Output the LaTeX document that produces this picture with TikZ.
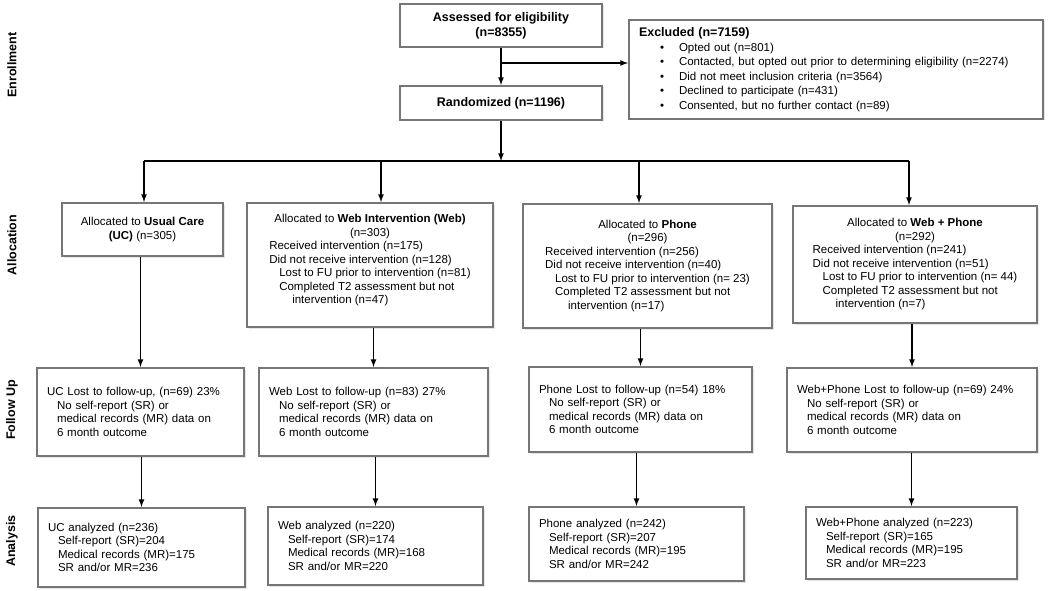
\documentclass[tikz,border=0pt]{standalone}
\usepackage{fontspec}
\setmainfont{Liberation Sans}
\usetikzlibrary{shadows}

\definecolor{boxgray}{RGB}{118,118,118}
\newcommand{\midline}[1]{\multicolumn{1}{@{}c@{}}{#1}}

\tikzset{
	box/.style = {draw = boxgray, line width = 2pt, fill = white, inner sep = 0pt,
		drop shadow = {shadow xshift = 1.5pt, shadow yshift = -1.5pt, opacity = 0.2},
		font = \fontsize{11.5}{13.5}\selectfont},
	stage/.style = {rotate = 90, font = \fontsize{12.5}{15}\selectfont\bfseries},
}

\begin{document}
\begin{tikzpicture}[x = 1pt, y = -1pt, > = latex]

	\useasboundingbox (0, 0) rectangle (1050, 591);

	\node [stage] (enroll) at (12, 65) {Enrollment};
	\node [stage] (alloc) at (12, 245) {Allocation};
	\node [stage] (follow) at (12, 410) {Follow Up};
	\node [stage] (analysis) at (12, 541) {Analysis};

	% enrollment
	\node [box, minimum width = 202pt, minimum height = 43pt, align = center, font = \fontsize{12.5}{15}\selectfont\bfseries] (assess) at (501, 25.5) {Assessed for eligibility\\(n=8355)};
	\node [box, minimum width = 202pt, minimum height = 34pt, font = \fontsize{12.5}{15}\selectfont\bfseries] (random) at (501, 103) {Randomized (n=1196)};
	\node [box, minimum width = 414pt, minimum height = 99pt, text width = 394pt, align = left, font = \fontsize{11.5}{14.5}\selectfont] (excl) at (836, 69.5) {
		{\fontsize{12.5}{14.5}\selectfont\bfseries Excluded (n=7159)}\\
		\hspace*{21pt}\textbullet\hspace{15pt}Opted out (n=801)\\
		\hspace*{21pt}\textbullet\hspace{15pt}Contacted, but opted out prior to determining eligibility (n=2274)\\
		\hspace*{21pt}\textbullet\hspace{15pt}Did not meet inclusion criteria (n=3564)\\
		\hspace*{21pt}\textbullet\hspace{15pt}Declined to participate (n=431)\\
		\hspace*{21pt}\textbullet\hspace{15pt}Consented, but no further contact (n=89)};

	% allocation
	\node [box, minimum width = 161pt, minimum height = 53pt, align = center] (allocUC) at (142.5, 229.5) {Allocated to \textbf{Usual Care}\\\textbf{(UC)} (n=305)};
	\node [box, minimum width = 246pt, minimum height = 124pt] (allocWeb) at (370, 265) {\begin{tabular}{@{}l@{}}
		\midline{Allocated to \textbf{Web Intervention (Web)}}\\
		\midline{(n=303)}\\
		Received intervention (n=175)\\
		Did not receive intervention (n=128)\\
		\hspace{10pt}Lost to FU prior to intervention (n=81)\\
		\hspace{10pt}Completed T2 assessment but not\\
		\hspace{23pt}intervention (n=47)\rule[-13pt]{0pt}{0pt}
	\end{tabular}};
	\node [box, minimum width = 249pt, minimum height = 124pt] (allocPh) at (647.5, 266) {\begin{tabular}{@{}l@{}}
		\midline{Allocated to \textbf{Phone}}\\
		\midline{(n=296)}\\
		Received intervention (n=256)\\
		Did not receive intervention (n=40)\\
		\hspace{10pt}Lost to FU prior to intervention (n= 23)\\
		\hspace{10pt}Completed T2 assessment but not\\
		\hspace{23pt}intervention (n=17)
	\end{tabular}};
	\node [box, minimum width = 244pt, minimum height = 117pt] (allocWP) at (915, 264.5) {\begin{tabular}{@{}l@{}}
		\midline{Allocated to \textbf{Web + Phone}}\\
		\midline{(n=292)}\\
		Received intervention (n=241)\\
		Did not receive intervention (n=51)\\
		\hspace{10pt}Lost to FU prior to intervention (n= 44)\\
		\hspace{10pt}Completed T2 assessment but not\\
		\hspace{23pt}intervention (n=7)
	\end{tabular}};

	% follow up
	\node [box, minimum width = 207pt, minimum height = 88pt, text width = 187pt, align = left] (fuUC) at (140.5, 412) {UC Lost to follow-up, (n=69) 23\%\\
		\hspace*{10pt}No self-report (SR) or\\
		\hspace*{10pt}medical records (MR) data on\\
		\hspace*{10pt}6 month outcome};
	\node [box, minimum width = 229pt, minimum height = 88pt, text width = 209pt, align = left] (fuWeb) at (373.5, 412) {Web Lost to follow-up (n=83) 27\%\\
		\hspace*{10pt}No self-report (SR) or\\
		\hspace*{10pt}medical records (MR) data on\\
		\hspace*{10pt}6 month outcome};
	\node [box, minimum width = 223pt, minimum height = 85pt, text width = 203pt, align = left] (fuPh) at (640.5, 409.5) {Phone Lost to follow-up (n=54) 18\%\\
		\hspace*{10pt}No self-report (SR) or\\
		\hspace*{10pt}medical records (MR) data on\\
		\hspace*{10pt}6 month outcome};
	\node [box, minimum width = 250pt, minimum height = 84pt, text width = 230pt, align = left] (fuWP) at (912, 410) {Web+Phone Lost to follow-up (n=69) 24\%\\
		\hspace*{10pt}No self-report (SR) or\\
		\hspace*{10pt}medical records (MR) data on\\
		\hspace*{10pt}6 month outcome};

	% analysis
	\node [box, minimum width = 207pt, minimum height = 79pt, text width = 187pt, align = left] (anUC) at (141.5, 547.5) {UC analyzed (n=236)\\
		\hspace*{10pt}Self-report (SR)=204\\
		\hspace*{10pt}Medical records (MR)=175\\
		\hspace*{10pt}SR and/or MR=236};
	\node [box, minimum width = 215pt, minimum height = 78pt, text width = 195pt, align = left] (anWeb) at (375.5, 546) {Web analyzed (n=220)\\
		\hspace*{10pt}Self-report (SR)=174\\
		\hspace*{10pt}Medical records (MR)=168\\
		\hspace*{10pt}SR and/or MR=220};
	\node [box, minimum width = 215pt, minimum height = 74pt, text width = 195pt, align = left] (anPh) at (636.5, 544) {Phone analyzed (n=242)\\
		\hspace*{10pt}Self-report (SR)=207\\
		\hspace*{10pt}Medical records (MR)=195\\
		\hspace*{10pt}SR and/or MR=242};
	\node [box, minimum width = 211pt, minimum height = 72pt, text width = 191pt, align = left] (anWP) at (911.5, 543) {Web+Phone analyzed (n=223)\\
		\hspace*{10pt}Self-report (SR)=165\\
		\hspace*{10pt}Medical records (MR)=195\\
		\hspace*{10pt}SR and/or MR=223};

	\coordinate (split) at (501, 63);
	\coordinate (busUC) at (144, 161);
	\coordinate (busWeb) at (381, 161);
	\coordinate (busPh) at (639, 161);
	\coordinate (busWP) at (909, 161);

	\begin{scope}[line width = 1.6pt]

		\draw [->] (assess) -- (random);
		\draw [->] (split) -- (split -| excl.west);
		\draw [->] (random) -- (random |- busUC);
		\draw (busUC) -- (busWP);

		\foreach \col in {UC, Web, Ph, WP} {
			\draw [->] (bus\col) -- (bus\col |- alloc\col.north);
			\draw [->] (fu\col.north |- alloc\col.south) -- (fu\col.north);
			\draw [->] (an\col.north |- fu\col.south) -- (an\col.north);
		}

	\end{scope}

\end{tikzpicture}
\end{document}
